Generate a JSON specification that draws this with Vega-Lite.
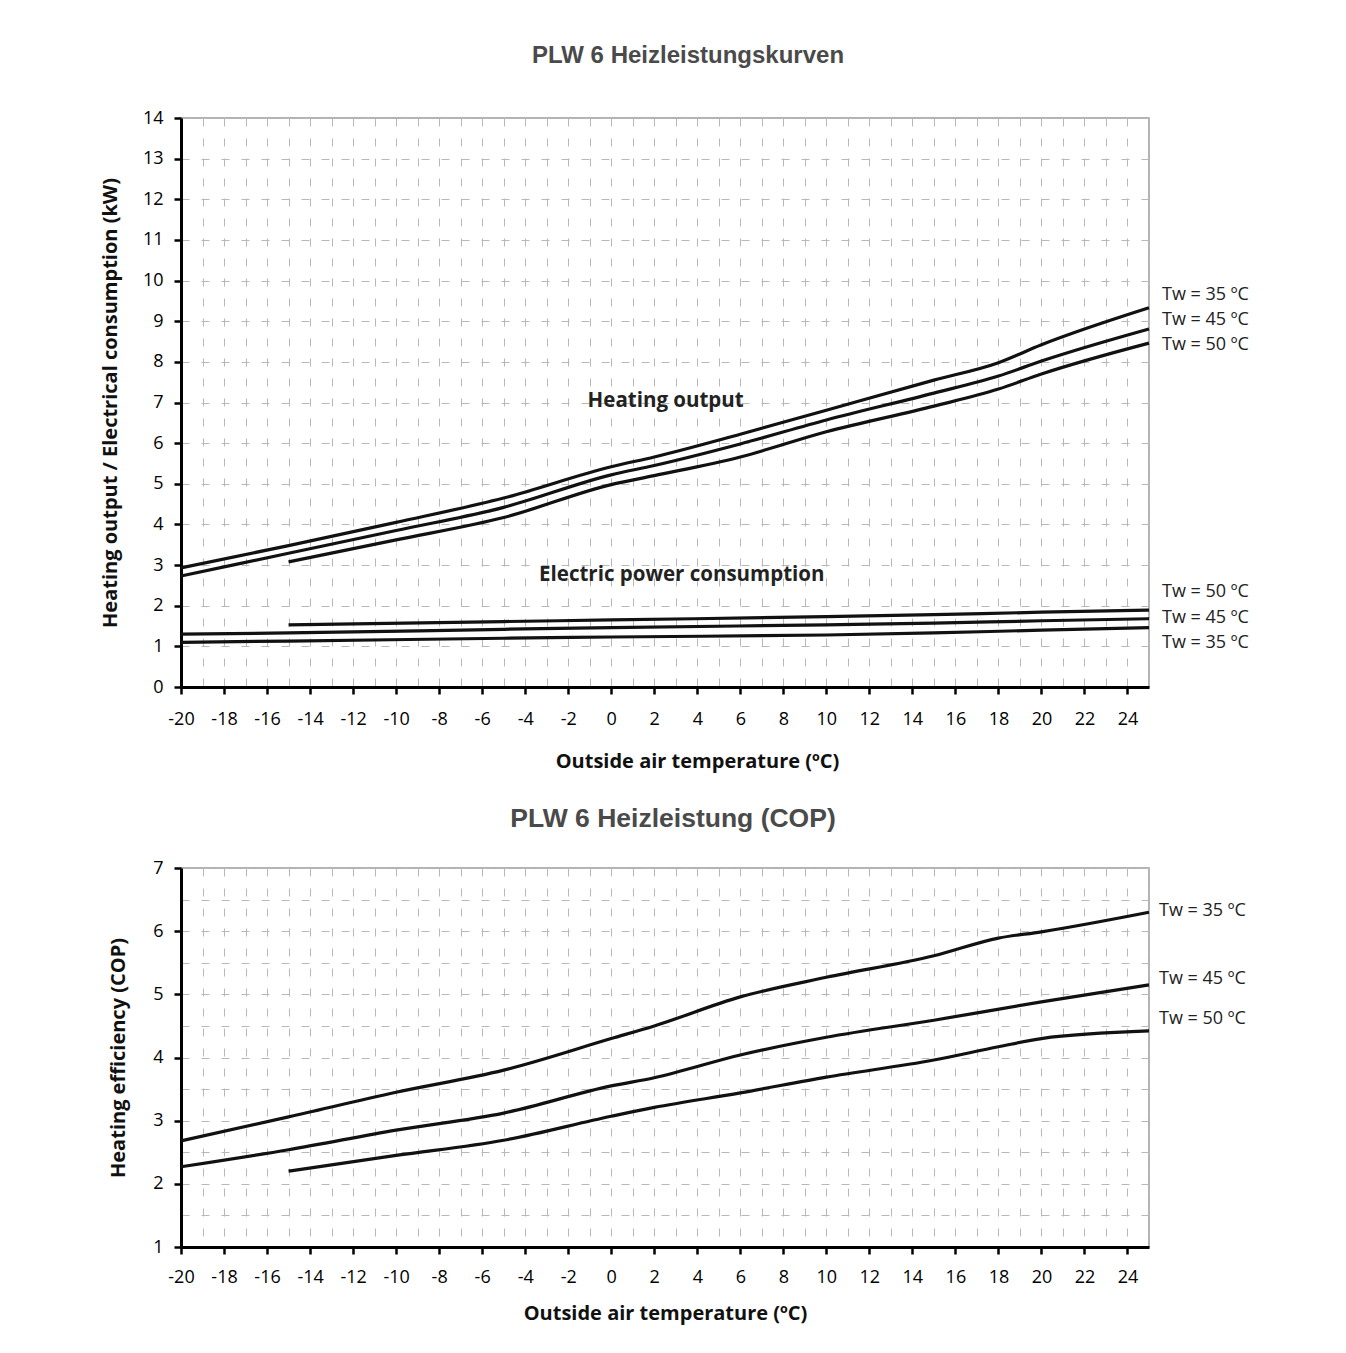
{
  "$schema": "https://vega.github.io/schema/vega-lite/v6.json",
  "background": "white",
  "padding": {"left": 99, "top": 43, "right": 10, "bottom": 10},
  "spacing": 32,
  "config": {
    "view": {"stroke": "#9a9a9a", "strokeWidth": 1.5},
    "font": "Open Sans",
    "axis": {
      "domainColor": "#000", "domainWidth": 3, "tickColor": "#000", "tickWidth": 2.5, "tickSize": 7,
      "labelFont": "Open Sans", "labelFontSize": 18, "labelColor": "#000", "labelFlush": false,
      "titleFont": "Open Sans", "titleFontSize": 20, "titleFontWeight": "bold", "titleColor": "#111",
      "gridColor": "#b8b8b8", "gridDash": [8, 12], "gridWidth": 1, "labelOverlap": false
    }
  },
  "datasets": {
    "heat": [
      {"t": -20, "v": 2.93, "series": "H35"}, {"t": -15, "v": 3.48, "series": "H35"}, {"t": -10, "v": 4.05, "series": "H35"}, {"t": -5, "v": 4.65, "series": "H35"}, {"t": 0, "v": 5.42, "series": "H35"}, {"t": 2, "v": 5.66, "series": "H35"}, {"t": 6, "v": 6.22, "series": "H35"}, {"t": 10, "v": 6.81, "series": "H35"}, {"t": 15, "v": 7.55, "series": "H35"}, {"t": 18, "v": 7.98, "series": "H35"}, {"t": 20, "v": 8.42, "series": "H35"}, {"t": 25, "v": 9.33, "series": "H35"},
      {"t": -20, "v": 2.73, "series": "H45"}, {"t": -15, "v": 3.29, "series": "H45"}, {"t": -10, "v": 3.85, "series": "H45"}, {"t": -5, "v": 4.42, "series": "H45"}, {"t": 0, "v": 5.22, "series": "H45"}, {"t": 2, "v": 5.45, "series": "H45"}, {"t": 6, "v": 5.98, "series": "H45"}, {"t": 10, "v": 6.57, "series": "H45"}, {"t": 15, "v": 7.23, "series": "H45"}, {"t": 18, "v": 7.65, "series": "H45"}, {"t": 20, "v": 8.02, "series": "H45"}, {"t": 25, "v": 8.81, "series": "H45"},
      {"t": -15, "v": 3.08, "series": "H50"}, {"t": -10, "v": 3.62, "series": "H50"}, {"t": -5, "v": 4.17, "series": "H50"}, {"t": 0, "v": 4.98, "series": "H50"}, {"t": 2, "v": 5.2, "series": "H50"}, {"t": 6, "v": 5.66, "series": "H50"}, {"t": 10, "v": 6.28, "series": "H50"}, {"t": 15, "v": 6.91, "series": "H50"}, {"t": 18, "v": 7.33, "series": "H50"}, {"t": 20, "v": 7.7, "series": "H50"}, {"t": 25, "v": 8.46, "series": "H50"},
      {"t": -20, "v": 1.10, "series": "P35"}, {"t": -15, "v": 1.13, "series": "P35"}, {"t": -5, "v": 1.2, "series": "P35"}, {"t": 0, "v": 1.23, "series": "P35"}, {"t": 10, "v": 1.28, "series": "P35"}, {"t": 15, "v": 1.33, "series": "P35"}, {"t": 20, "v": 1.4, "series": "P35"}, {"t": 25, "v": 1.46, "series": "P35"},
      {"t": -20, "v": 1.30, "series": "P45"}, {"t": -15, "v": 1.33, "series": "P45"}, {"t": -5, "v": 1.42, "series": "P45"}, {"t": 0, "v": 1.46, "series": "P45"}, {"t": 10, "v": 1.53, "series": "P45"}, {"t": 15, "v": 1.57, "series": "P45"}, {"t": 20, "v": 1.63, "series": "P45"}, {"t": 25, "v": 1.68, "series": "P45"},
      {"t": -15, "v": 1.53, "series": "P50"}, {"t": -5, "v": 1.61, "series": "P50"}, {"t": 0, "v": 1.65, "series": "P50"}, {"t": 10, "v": 1.73, "series": "P50"}, {"t": 15, "v": 1.78, "series": "P50"}, {"t": 20, "v": 1.84, "series": "P50"}, {"t": 25, "v": 1.89, "series": "P50"}
    ],
    "cop": [
      {"t": -20, "v": 2.68, "series": "C35"}, {"t": -15, "v": 3.06, "series": "C35"}, {"t": -10, "v": 3.45, "series": "C35"}, {"t": -5, "v": 3.8, "series": "C35"}, {"t": 0, "v": 4.3, "series": "C35"}, {"t": 2, "v": 4.5, "series": "C35"}, {"t": 6, "v": 4.96, "series": "C35"}, {"t": 10, "v": 5.27, "series": "C35"}, {"t": 15, "v": 5.61, "series": "C35"}, {"t": 18, "v": 5.89, "series": "C35"}, {"t": 20, "v": 5.99, "series": "C35"}, {"t": 25, "v": 6.3, "series": "C35"},
      {"t": -20, "v": 2.27, "series": "C45"}, {"t": -15, "v": 2.54, "series": "C45"}, {"t": -10, "v": 2.85, "series": "C45"}, {"t": -5, "v": 3.12, "series": "C45"}, {"t": 0, "v": 3.55, "series": "C45"}, {"t": 2, "v": 3.68, "series": "C45"}, {"t": 6, "v": 4.04, "series": "C45"}, {"t": 10, "v": 4.32, "series": "C45"}, {"t": 15, "v": 4.59, "series": "C45"}, {"t": 20, "v": 4.88, "series": "C45"}, {"t": 25, "v": 5.15, "series": "C45"},
      {"t": -15, "v": 2.2, "series": "C50"}, {"t": -10, "v": 2.45, "series": "C50"}, {"t": -5, "v": 2.69, "series": "C50"}, {"t": 0, "v": 3.07, "series": "C50"}, {"t": 2, "v": 3.21, "series": "C50"}, {"t": 6, "v": 3.44, "series": "C50"}, {"t": 10, "v": 3.69, "series": "C50"}, {"t": 15, "v": 3.96, "series": "C50"}, {"t": 18, "v": 4.17, "series": "C50"}, {"t": 20, "v": 4.3, "series": "C50"}, {"t": 25, "v": 4.42, "series": "C50"}
    ],
    "topLabels": [
      {"t": 25, "v": 9.65, "label": "Tw = 35 ºC"},
      {"t": 25, "v": 9.03, "label": "Tw = 45 ºC"},
      {"t": 25, "v": 8.42, "label": "Tw = 50 ºC"},
      {"t": 25, "v": 2.34, "label": "Tw = 50 ºC"},
      {"t": 25, "v": 1.70, "label": "Tw = 45 ºC"},
      {"t": 25, "v": 1.08, "label": "Tw = 35 ºC"}
    ],
    "topNotes": [
      {"t": 2.53, "v": 7.04, "label": "Heating output"},
      {"t": 3.28, "v": 2.76, "label": "Electric power consumption"}
    ],
    "copLabels": [
      {"t": 25, "v": 6.32, "label": "Tw = 35 ºC"},
      {"t": 25, "v": 5.24, "label": "Tw = 45 ºC"},
      {"t": 25, "v": 4.61, "label": "Tw = 50 ºC"}
    ]
  },
  "vconcat": [
    {
      "width": 968,
      "height": 569,
      "title": {"text": "PLW 6 Heizleistungskurven", "font": "Liberation Sans", "fontSize": 24, "fontWeight": "bold", "color": "#4a4a4a", "offset": 41, "dx": 23},
      "encoding": {
        "x": {"field": "t", "type": "quantitative", "scale": {"domain": [-20, 25], "nice": false, "zero": false},
          "axis": {"title": "Outside air temperature (ºC)", "values": [-20,-19,-18,-17,-16,-15,-14,-13,-12,-11,-10,-9,-8,-7,-6,-5,-4,-3,-2,-1,0,1,2,3,4,5,6,7,8,9,10,11,12,13,14,15,16,17,18,19,20,21,22,23,24,25],
            "labelExpr": "datum.value % 2 === 0 && datum.value < 25 ? (datum.value < 0 ? '-' + abs(datum.value) : '' + datum.value) : ''",
            "tickOpacity": {"condition": {"test": "datum.value % 2 !== 0 || datum.value === 25", "value": 0}, "value": 1},
            "labelPadding": 16, "titlePadding": 23, "titleX": 516}},
        "y": {"field": "v", "type": "quantitative", "scale": {"domain": [0, 14], "nice": false},
          "axis": {"title": "Heating output / Electrical consumption (kW)", "values": [0,1,2,3,4,5,6,7,8,9,10,11,12,13,14],
            "labelExpr": "'' + datum.value", "labelPadding": 11, "titlePadding": 22}}
      },
      "layer": [
        {"data": {"name": "heat"}, "mark": {"type": "line", "color": "#111", "strokeWidth": 3.2, "interpolate": "monotone"},
          "encoding": {"detail": {"field": "series"}}},
        {"data": {"name": "topLabels"}, "mark": {"type": "text", "align": "left", "dx": 13, "fontSize": 18, "font": "Open Sans", "color": "#222"},
          "encoding": {"text": {"field": "label"}}},
        {"data": {"name": "topNotes"}, "mark": {"type": "text", "align": "center", "fontSize": 20.5, "font": "Open Sans", "fontWeight": "bold", "color": "#222"},
          "encoding": {"text": {"field": "label"}}}
      ]
    },
    {
      "width": 968,
      "height": 379,
      "title": {"text": "PLW 6 Heizleistung (COP)", "font": "Liberation Sans", "fontSize": 26.5, "fontWeight": "bold", "color": "#4a4a4a", "offset": 27, "dx": 8},
      "encoding": {
        "x": {"field": "t", "type": "quantitative", "scale": {"domain": [-20, 25], "nice": false, "zero": false},
          "axis": {"title": "Outside air temperature (ºC)", "values": [-20,-19,-18,-17,-16,-15,-14,-13,-12,-11,-10,-9,-8,-7,-6,-5,-4,-3,-2,-1,0,1,2,3,4,5,6,7,8,9,10,11,12,13,14,15,16,17,18,19,20,21,22,23,24,25],
            "labelExpr": "datum.value % 2 === 0 && datum.value < 25 ? (datum.value < 0 ? '-' + abs(datum.value) : '' + datum.value) : ''",
            "tickOpacity": {"condition": {"test": "datum.value % 2 !== 0 || datum.value === 25", "value": 0}, "value": 1},
            "labelPadding": 14, "titlePadding": 17}},
        "y": {"field": "v", "type": "quantitative", "scale": {"domain": [1, 7], "nice": false, "zero": false},
          "axis": {"title": "Heating efficiency (COP)", "values": [1,1.5,2,2.5,3,3.5,4,4.5,5,5.5,6,6.5,7],
            "labelExpr": "datum.value % 1 === 0 ? '' + datum.value : ''",
            "tickOpacity": {"condition": {"test": "datum.value % 1 !== 0", "value": 0}, "value": 1},
            "labelPadding": 11, "titlePadding": 24}}
      },
      "layer": [
        {"data": {"name": "cop"}, "mark": {"type": "line", "color": "#111", "strokeWidth": 3.2, "interpolate": "monotone"},
          "encoding": {"detail": {"field": "series"}}},
        {"data": {"name": "copLabels"}, "mark": {"type": "text", "align": "left", "dx": 10, "fontSize": 18, "font": "Open Sans", "color": "#222"},
          "encoding": {"text": {"field": "label"}}}
      ]
    }
  ]
}
